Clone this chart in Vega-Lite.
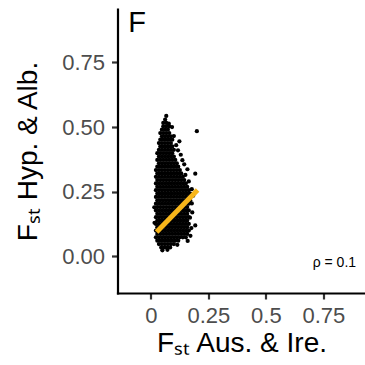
{
"$schema":"https://vega.github.io/schema/vega-lite/v6.json",
"width":248,"height":284,
"autosize":{"type":"none"},
"padding":{"left":117.5,"top":9,"right":0,"bottom":72},
"config":{"view":{"stroke":null},"font":"Liberation Sans"},
"datasets":{
"pts":[
{"x":0.045,"y":0.035},{"x":0.058,"y":0.035},{"x":0.071,"y":0.035},{"x":0.084,"y":0.035},
{"x":0.035,"y":0.048},{"x":0.048,"y":0.048},{"x":0.061,"y":0.048},{"x":0.074,"y":0.048},{"x":0.087,"y":0.048},{"x":0.1,"y":0.048},
{"x":0.028,"y":0.061},{"x":0.041,"y":0.061},{"x":0.054,"y":0.061},{"x":0.067,"y":0.061},{"x":0.08,"y":0.061},{"x":0.093,"y":0.061},{"x":0.106,"y":0.061},{"x":0.119,"y":0.061},
{"x":0.022,"y":0.074},{"x":0.035,"y":0.074},{"x":0.048,"y":0.074},{"x":0.061,"y":0.074},{"x":0.074,"y":0.074},{"x":0.087,"y":0.074},{"x":0.1,"y":0.074},{"x":0.113,"y":0.074},{"x":0.126,"y":0.074},{"x":0.139,"y":0.074},{"x":0.152,"y":0.074},
{"x":0.028,"y":0.087},{"x":0.041,"y":0.087},{"x":0.054,"y":0.087},{"x":0.067,"y":0.087},{"x":0.08,"y":0.087},{"x":0.093,"y":0.087},{"x":0.106,"y":0.087},{"x":0.119,"y":0.087},{"x":0.132,"y":0.087},{"x":0.145,"y":0.087},{"x":0.158,"y":0.087},
{"x":0.022,"y":0.1},{"x":0.035,"y":0.1},{"x":0.048,"y":0.1},{"x":0.061,"y":0.1},{"x":0.074,"y":0.1},{"x":0.087,"y":0.1},{"x":0.1,"y":0.1},{"x":0.113,"y":0.1},{"x":0.126,"y":0.1},{"x":0.139,"y":0.1},{"x":0.152,"y":0.1},{"x":0.165,"y":0.1},
{"x":0.028,"y":0.113},{"x":0.041,"y":0.113},{"x":0.054,"y":0.113},{"x":0.067,"y":0.113},{"x":0.08,"y":0.113},{"x":0.093,"y":0.113},{"x":0.106,"y":0.113},{"x":0.119,"y":0.113},{"x":0.132,"y":0.113},{"x":0.145,"y":0.113},{"x":0.158,"y":0.113},
{"x":0.022,"y":0.126},{"x":0.035,"y":0.126},{"x":0.048,"y":0.126},{"x":0.061,"y":0.126},{"x":0.074,"y":0.126},{"x":0.087,"y":0.126},{"x":0.1,"y":0.126},{"x":0.113,"y":0.126},{"x":0.126,"y":0.126},{"x":0.139,"y":0.126},{"x":0.152,"y":0.126},{"x":0.165,"y":0.126},
{"x":0.028,"y":0.139},{"x":0.041,"y":0.139},{"x":0.054,"y":0.139},{"x":0.067,"y":0.139},{"x":0.08,"y":0.139},{"x":0.093,"y":0.139},{"x":0.106,"y":0.139},{"x":0.119,"y":0.139},{"x":0.132,"y":0.139},{"x":0.145,"y":0.139},{"x":0.158,"y":0.139},
{"x":0.022,"y":0.152},{"x":0.035,"y":0.152},{"x":0.048,"y":0.152},{"x":0.061,"y":0.152},{"x":0.074,"y":0.152},{"x":0.087,"y":0.152},{"x":0.1,"y":0.152},{"x":0.113,"y":0.152},{"x":0.126,"y":0.152},{"x":0.139,"y":0.152},{"x":0.152,"y":0.152},{"x":0.165,"y":0.152},
{"x":0.028,"y":0.165},{"x":0.041,"y":0.165},{"x":0.054,"y":0.165},{"x":0.067,"y":0.165},{"x":0.08,"y":0.165},{"x":0.093,"y":0.165},{"x":0.106,"y":0.165},{"x":0.119,"y":0.165},{"x":0.132,"y":0.165},{"x":0.145,"y":0.165},{"x":0.158,"y":0.165},
{"x":0.022,"y":0.178},{"x":0.035,"y":0.178},{"x":0.048,"y":0.178},{"x":0.061,"y":0.178},{"x":0.074,"y":0.178},{"x":0.087,"y":0.178},{"x":0.1,"y":0.178},{"x":0.113,"y":0.178},{"x":0.126,"y":0.178},{"x":0.139,"y":0.178},{"x":0.152,"y":0.178},{"x":0.165,"y":0.178},
{"x":0.028,"y":0.191},{"x":0.041,"y":0.191},{"x":0.054,"y":0.191},{"x":0.067,"y":0.191},{"x":0.08,"y":0.191},{"x":0.093,"y":0.191},{"x":0.106,"y":0.191},{"x":0.119,"y":0.191},{"x":0.132,"y":0.191},{"x":0.145,"y":0.191},{"x":0.158,"y":0.191},
{"x":0.022,"y":0.204},{"x":0.035,"y":0.204},{"x":0.048,"y":0.204},{"x":0.061,"y":0.204},{"x":0.074,"y":0.204},{"x":0.087,"y":0.204},{"x":0.1,"y":0.204},{"x":0.113,"y":0.204},{"x":0.126,"y":0.204},{"x":0.139,"y":0.204},{"x":0.152,"y":0.204},{"x":0.165,"y":0.204},
{"x":0.028,"y":0.217},{"x":0.041,"y":0.217},{"x":0.054,"y":0.217},{"x":0.067,"y":0.217},{"x":0.08,"y":0.217},{"x":0.093,"y":0.217},{"x":0.106,"y":0.217},{"x":0.119,"y":0.217},{"x":0.132,"y":0.217},{"x":0.145,"y":0.217},{"x":0.158,"y":0.217},{"x":0.171,"y":0.217},
{"x":0.022,"y":0.23},{"x":0.035,"y":0.23},{"x":0.048,"y":0.23},{"x":0.061,"y":0.23},{"x":0.074,"y":0.23},{"x":0.087,"y":0.23},{"x":0.1,"y":0.23},{"x":0.113,"y":0.23},{"x":0.126,"y":0.23},{"x":0.139,"y":0.23},{"x":0.152,"y":0.23},{"x":0.165,"y":0.23},
{"x":0.028,"y":0.243},{"x":0.041,"y":0.243},{"x":0.054,"y":0.243},{"x":0.067,"y":0.243},{"x":0.08,"y":0.243},{"x":0.093,"y":0.243},{"x":0.106,"y":0.243},{"x":0.119,"y":0.243},{"x":0.132,"y":0.243},{"x":0.145,"y":0.243},{"x":0.158,"y":0.243},{"x":0.171,"y":0.243},
{"x":0.022,"y":0.256},{"x":0.035,"y":0.256},{"x":0.048,"y":0.256},{"x":0.061,"y":0.256},{"x":0.074,"y":0.256},{"x":0.087,"y":0.256},{"x":0.1,"y":0.256},{"x":0.113,"y":0.256},{"x":0.126,"y":0.256},{"x":0.139,"y":0.256},{"x":0.152,"y":0.256},{"x":0.165,"y":0.256},
{"x":0.028,"y":0.269},{"x":0.041,"y":0.269},{"x":0.054,"y":0.269},{"x":0.067,"y":0.269},{"x":0.08,"y":0.269},{"x":0.093,"y":0.269},{"x":0.106,"y":0.269},{"x":0.119,"y":0.269},{"x":0.132,"y":0.269},{"x":0.145,"y":0.269},{"x":0.158,"y":0.269},
{"x":0.022,"y":0.282},{"x":0.035,"y":0.282},{"x":0.048,"y":0.282},{"x":0.061,"y":0.282},{"x":0.074,"y":0.282},{"x":0.087,"y":0.282},{"x":0.1,"y":0.282},{"x":0.113,"y":0.282},{"x":0.126,"y":0.282},{"x":0.139,"y":0.282},{"x":0.152,"y":0.282},
{"x":0.028,"y":0.295},{"x":0.041,"y":0.295},{"x":0.054,"y":0.295},{"x":0.067,"y":0.295},{"x":0.08,"y":0.295},{"x":0.093,"y":0.295},{"x":0.106,"y":0.295},{"x":0.119,"y":0.295},{"x":0.132,"y":0.295},{"x":0.145,"y":0.295},
{"x":0.022,"y":0.308},{"x":0.035,"y":0.308},{"x":0.048,"y":0.308},{"x":0.061,"y":0.308},{"x":0.074,"y":0.308},{"x":0.087,"y":0.308},{"x":0.1,"y":0.308},{"x":0.113,"y":0.308},{"x":0.126,"y":0.308},{"x":0.139,"y":0.308},
{"x":0.028,"y":0.321},{"x":0.041,"y":0.321},{"x":0.054,"y":0.321},{"x":0.067,"y":0.321},{"x":0.08,"y":0.321},{"x":0.093,"y":0.321},{"x":0.106,"y":0.321},{"x":0.119,"y":0.321},{"x":0.132,"y":0.321},
{"x":0.022,"y":0.334},{"x":0.035,"y":0.334},{"x":0.048,"y":0.334},{"x":0.061,"y":0.334},{"x":0.074,"y":0.334},{"x":0.087,"y":0.334},{"x":0.1,"y":0.334},{"x":0.113,"y":0.334},{"x":0.126,"y":0.334},
{"x":0.028,"y":0.347},{"x":0.041,"y":0.347},{"x":0.054,"y":0.347},{"x":0.067,"y":0.347},{"x":0.08,"y":0.347},{"x":0.093,"y":0.347},{"x":0.106,"y":0.347},{"x":0.119,"y":0.347},
{"x":0.035,"y":0.36},{"x":0.048,"y":0.36},{"x":0.061,"y":0.36},{"x":0.074,"y":0.36},{"x":0.087,"y":0.36},{"x":0.1,"y":0.36},{"x":0.113,"y":0.36},
{"x":0.028,"y":0.373},{"x":0.041,"y":0.373},{"x":0.054,"y":0.373},{"x":0.067,"y":0.373},{"x":0.08,"y":0.373},{"x":0.093,"y":0.373},{"x":0.106,"y":0.373},
{"x":0.035,"y":0.386},{"x":0.048,"y":0.386},{"x":0.061,"y":0.386},{"x":0.074,"y":0.386},{"x":0.087,"y":0.386},{"x":0.1,"y":0.386},
{"x":0.028,"y":0.399},{"x":0.041,"y":0.399},{"x":0.054,"y":0.399},{"x":0.067,"y":0.399},{"x":0.08,"y":0.399},{"x":0.093,"y":0.399},
{"x":0.035,"y":0.412},{"x":0.048,"y":0.412},{"x":0.061,"y":0.412},{"x":0.074,"y":0.412},{"x":0.087,"y":0.412},{"x":0.1,"y":0.412},
{"x":0.041,"y":0.425},{"x":0.054,"y":0.425},{"x":0.067,"y":0.425},{"x":0.08,"y":0.425},{"x":0.093,"y":0.425},
{"x":0.035,"y":0.438},{"x":0.048,"y":0.438},{"x":0.061,"y":0.438},{"x":0.074,"y":0.438},{"x":0.087,"y":0.438},
{"x":0.041,"y":0.451},{"x":0.054,"y":0.451},{"x":0.067,"y":0.451},{"x":0.08,"y":0.451},{"x":0.093,"y":0.451},
{"x":0.048,"y":0.464},{"x":0.061,"y":0.464},{"x":0.074,"y":0.464},{"x":0.087,"y":0.464},
{"x":0.041,"y":0.477},{"x":0.054,"y":0.477},{"x":0.067,"y":0.477},{"x":0.08,"y":0.477},
{"x":0.048,"y":0.49},{"x":0.061,"y":0.49},{"x":0.074,"y":0.49},
{"x":0.054,"y":0.503},{"x":0.067,"y":0.503},{"x":0.08,"y":0.503},
{"x":0.054,"y":0.516},{"x":0.067,"y":0.516},
{"x":0.062,"y":0.529},
{"x":0.2,"y":0.484},{"x":0.124,"y":0.445},{"x":0.13,"y":0.393},{"x":0.159,"y":0.337},{"x":0.193,"y":0.32},{"x":0.193,"y":0.12},{"x":0.067,"y":0.543},{"x":0.078,"y":0.513},{"x":0.145,"y":0.356},{"x":0.11,"y":0.43},{"x":0.118,"y":0.41},{"x":0.137,"y":0.372},{"x":0.15,"y":0.315},{"x":0.165,"y":0.29},{"x":0.178,"y":0.26},{"x":0.184,"y":0.235},{"x":0.178,"y":0.205},{"x":0.17,"y":0.15},{"x":0.176,"y":0.11},{"x":0.172,"y":0.08},{"x":0.16,"y":0.06},{"x":0.115,"y":0.045},{"x":0.015,"y":0.19},{"x":0.016,"y":0.13},{"x":0.05,"y":0.024},{"x":0.072,"y":0.026},{"x":0.1,"y":0.465},{"x":0.092,"y":0.5},{"x":0.18,"y":0.17}
],
"fit":[{"x":0.025,"y":0.095},{"x":0.203,"y":0.257}],
"one":[{"label":"annotation"}]
},
"layer":[
{"data":{"name":"pts"},
 "mark":{"type":"circle","size":18,"color":"black","opacity":1},
 "encoding":{
  "x":{"field":"x","type":"quantitative","scale":{"domain":[-0.145,0.933],"nice":false,"zero":false},
   "axis":{"values":[0,0.25,0.5,0.75],"format":".2~f","title":"Fₛₜ Aus. & Ire.","grid":false,"domainColor":"black","domainWidth":2.2,"domainCap":"square","tickColor":"#333333","tickWidth":2.2,"tickSize":6,"labelFontSize":22,"labelColor":"#4d4d4d","labelPadding":6,"labelOverlap":false,"labelFlush":false,"titleFontSize":28,"titleFontWeight":"normal","titleColor":"black","titlePadding":3}},
  "y":{"field":"y","type":"quantitative","scale":{"domain":[-0.141,0.956],"nice":false,"zero":false},
   "axis":{"values":[0,0.25,0.5,0.75],"format":".2f","title":"Fₛₜ Hyp. & Alb.","grid":false,"domainColor":"black","domainWidth":2.2,"domainCap":"square","tickColor":"#333333","tickWidth":2.2,"tickSize":6,"labelFontSize":22,"labelColor":"#4d4d4d","labelPadding":7,"labelOverlap":false,"labelFlush":false,"titleFontSize":28,"titleFontWeight":"normal","titleColor":"black","titlePadding":19}}
 }},
{"data":{"name":"fit"},
 "mark":{"type":"line","color":"#F8B61A","strokeWidth":5,"strokeCap":"butt"},
 "encoding":{"x":{"field":"x","type":"quantitative"},"y":{"field":"y","type":"quantitative"}}},
{"data":{"name":"one"},
 "mark":{"type":"text","text":"ρ = 0.1","align":"right","baseline":"alphabetic","fontSize":14,"color":"black"},
 "encoding":{"x":{"datum":0.892},"y":{"datum":-0.04}}},
{"data":{"name":"one"},
 "mark":{"type":"text","text":"F","align":"left","baseline":"alphabetic","fontSize":29,"color":"black"},
 "encoding":{"x":{"datum":-0.098},"y":{"datum":0.866}}}
]
}
